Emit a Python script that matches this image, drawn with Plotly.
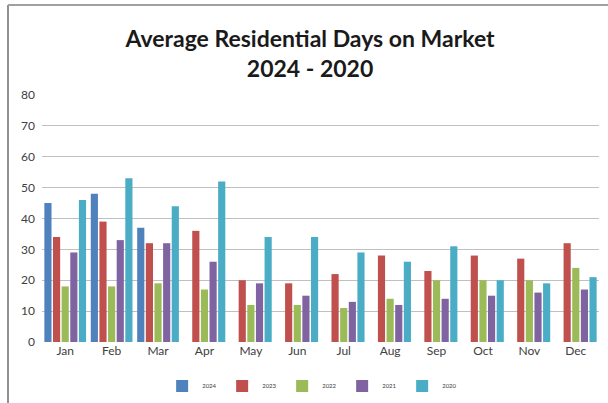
import plotly.graph_objects as go

months = ["Jan", "Feb", "Mar", "Apr", "May", "Jun", "Jul", "Aug", "Sep", "Oct", "Nov", "Dec"]
years = ["2024", "2023", "2022", "2021", "2020"]
v2024 = [45, 48, 37, None, None, None, None, None, None, None, None, None]
v2023 = [34, 39, 32, 36, 20, 19, 22, 28, 23, 28, 27, 32]
v2022 = [18, 18, 19, 17, 12, 12, 11, 14, 20, 20, 20, 24]
v2021 = [29, 33, 32, 26, 19, 15, 13, 12, 14, 15, 16, 17]
v2020 = [46, 53, 44, 52, 34, 34, 29, 26, 31, 20, 19, 21]
series = [v2024, v2023, v2022, v2021, v2020]
colors = ["#4F81BD", "#C0504D", "#9BBB59", "#8064A2", "#4BACC6"]
yticks = [0, 10, 20, 30, 40, 50, 60, 70, 80]

W, H = 608, 403
L, R, T, B = 42, 9, 95, 61

fig = go.Figure()
for name, vals, c in zip(years, series, colors):
    fig.add_trace(go.Bar(x=months, y=vals, name=name, marker=dict(color=c, line=dict(width=0))))

pw = W - L - R
ph = H - T - B
fig.update_layout(
    width=W, height=H,
    margin=dict(l=L, r=R, t=T, b=B),
    paper_bgcolor="white", plot_bgcolor="white",
    barmode="group", bargap=0.07, bargroupgap=0.17,
    title=dict(text="<b>Average Residential Days on Market<br>2024 - 2020</b>",
               x=0.51, xanchor="center", y=1 - 47 / H, yanchor="middle",
               font=dict(family="Lato", size=23, color="#1a1a1a")),
    font=dict(family="Lato", color="#404040"),
    legend=dict(orientation="h", x=0.485, xanchor="center", y=1 - 386 / H, yanchor="middle",
                yref="container", font=dict(size=6, color="#404040"),
                itemwidth=30, traceorder="normal", entrywidth=15, tracegroupgap=0),
    xaxis=dict(showgrid=False, showline=False, ticks="", tickfont=dict(size=12, color="#404040")),
    yaxis=dict(range=[0, 80], tickvals=yticks, showgrid=True, gridcolor="#C0C0C0", gridwidth=1,
               zeroline=False, showline=False, ticks="", ticklabelstandoff=6,
               tickfont=dict(size=12, color="#404040")),
    showlegend=True,
)
# frame lines (left and top) around the chart image
fig.add_shape(type="line", xref="paper", yref="paper",
              x0=(8 - L) / pw, x1=(8 - L) / pw, y0=(H - B - 5) / ph, y1=(H - B - H) / ph,
              line=dict(color="#909090", width=2))
fig.add_shape(type="line", xref="paper", yref="paper",
              x0=(8 - L) / pw, x1=(W - L) / pw, y0=(H - B - 5) / ph, y1=(H - B - 5) / ph,
              line=dict(color="#A0A0A0", width=2))
fig.write_html("out.html", config={"displayModeBar": False},
               post_script="document.body.style.margin='0';")
